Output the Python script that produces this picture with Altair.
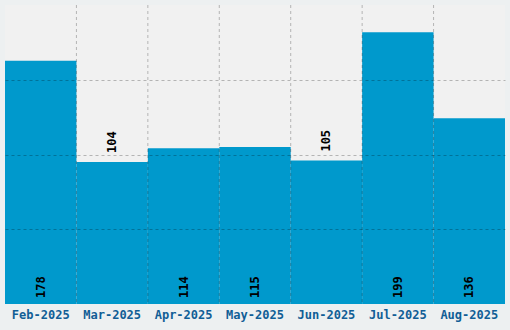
import altair as alt
import pandas as pd

months = ["Feb-2025", "Mar-2025", "Apr-2025", "May-2025", "Jun-2025", "Jul-2025", "Aug-2025"]
values = [178, 104, 114, 115, 105, 199, 136]

df = pd.DataFrame({"month": months, "value": values})
ymax = max(values) * 1.1
grid_vals = [ymax / 4, ymax / 2, ymax * 3 / 4]

FONT = "DejaVu Sans Mono"

xenc = alt.X("month:N", sort=months,
             scale=alt.Scale(paddingInner=0, paddingOuter=0),
             axis=alt.Axis(title=None, labelAngle=0, ticks=False, domain=False, grid=False,
                           labelFont=FONT, labelFontWeight="bold", labelFontSize=12,
                           labelColor="#115e96", labelPadding=5))
yscale = alt.Scale(domain=[0, ymax], nice=False)

base = alt.Chart(df)

bars = base.mark_bar(color="#0099cc").encode(
    x=xenc,
    y=alt.Y("value:Q", scale=yscale,
            axis=alt.Axis(title=None, labels=False, ticks=False, domain=False,
                          values=grid_vals, grid=True, gridColor="#000000",
                          gridOpacity=0.25, gridDash=[3, 3], zindex=1)),
)

vgrid = base.transform_filter(alt.datum.month != months[0]).mark_rule(
    color="#000000", opacity=0.25, strokeDash=[3, 3]
).encode(
    x=alt.X("month:N", sort=months, bandPosition=0),
)

inside = base.transform_filter(alt.datum.value >= 110).transform_calculate(
    zero="0"
).mark_text(
    angle=270, align="left", baseline="middle", font=FONT, fontWeight="bold",
    fontSize=12, color="#000000", dx=6
).encode(
    x=alt.X("month:N", sort=months),
    y=alt.Y("zero:Q", scale=yscale),
    text="value:Q",
)

above = base.transform_filter(alt.datum.value < 110).mark_text(
    angle=270, align="left", baseline="middle", font=FONT, fontWeight="bold",
    fontSize=12, color="#000000", dx=9
).encode(
    x=alt.X("month:N", sort=months),
    y=alt.Y("value:Q", scale=yscale),
    text="value:Q",
)

chart = alt.layer(bars, vgrid, inside, above).properties(
    width=500, height=299,
    background="#edf0f1",
    padding={"left": 5, "top": 5, "right": 5, "bottom": 26},
    autosize=alt.AutoSizeParams(type="none"),
).configure_view(fill="#f1f1f1", stroke=None)

chart.save("out.html", embed_options={"renderer": "svg", "actions": False})
